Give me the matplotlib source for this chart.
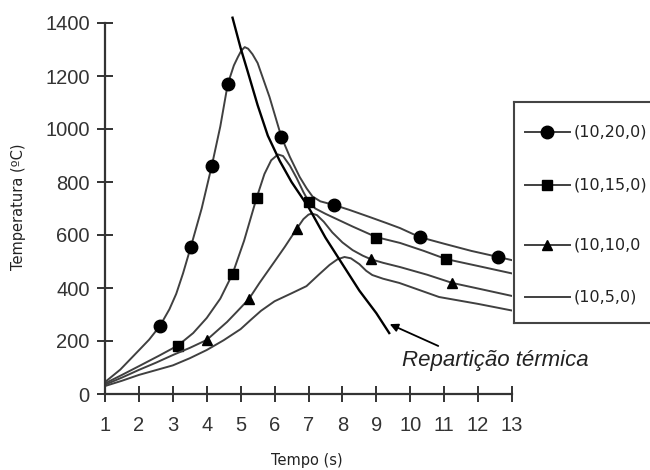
import numpy as np
import matplotlib
matplotlib.use("Agg")
import matplotlib.pyplot as plt

# curves (Tempo in s, Temperatura in C)
x_20 = [1.0, 1.45, 2.0, 2.3, 2.62, 2.9, 3.1, 3.3, 3.53, 3.85, 4.15, 4.4, 4.62, 4.8, 4.92, 5.02,
        5.12, 5.22, 5.35, 5.5, 5.85, 6.2, 6.45, 6.74, 6.95, 7.12, 7.35, 7.76, 8.2, 8.8, 9.3,
        9.7, 10.28, 11.0, 11.8, 12.6, 13.0]
y_20 = [45, 92, 165, 205, 257, 320, 378, 455, 555, 700, 862, 1010, 1170, 1240, 1272, 1296,
        1309, 1303, 1282, 1249, 1121, 970, 895, 819, 775, 745, 727, 713, 695, 668, 645,
        626, 592, 567, 540, 517, 505]
mx_20 = [2.62, 3.53, 4.15, 4.62, 6.2, 7.76, 10.28, 12.6]
my_20 = [257, 555, 862, 1170, 970, 713, 592, 517]

x_15 = [1.0, 1.5, 2.0, 2.6, 3.15, 3.6, 4.0, 4.4, 4.76, 5.1, 5.47, 5.7, 5.9, 6.1, 6.25, 6.45,
        6.65, 6.85, 7.0, 7.2, 7.5, 7.7, 8.3, 9.0, 9.7, 10.4, 11.06, 12.0, 13.0]
y_15 = [40, 72, 105, 145, 183, 230, 287, 360, 453, 578, 740, 830, 882, 904, 898, 862,
        815, 762, 727, 700, 680, 668, 632, 592, 570, 540, 509, 483, 455]
mx_15 = [3.15, 4.76, 5.47, 7.0, 9.0, 11.06]
my_15 = [183, 453, 740, 725, 590, 509]

x_10 = [1.0, 1.5, 2.0, 2.5, 3.0, 3.5, 4.0, 4.6, 4.9, 5.24, 5.56, 6.0, 6.3, 6.65, 6.85, 7.0,
        7.1, 7.25, 7.45, 7.7, 8.0, 8.3, 8.6, 8.85, 9.2, 9.7, 10.5, 11.24, 12.0, 13.0]
y_10 = [35, 62, 91, 118, 147, 174, 204, 272, 312, 358, 420, 500, 555, 623, 660, 677,
        681, 675, 650, 610, 572, 543, 522, 508, 495, 479, 450, 419, 398, 370]
mx_10 = [4.0, 5.24, 6.65, 8.85, 11.24]
my_10 = [204, 358, 623, 508, 419]

x_5 = [1.0, 1.5, 2.0, 2.5, 3.0, 3.5, 4.0, 4.5, 5.0, 5.3, 5.6, 6.0, 6.5, 6.94, 7.3, 7.62,
       7.85, 8.06, 8.25, 8.5, 8.7, 8.88, 9.2, 9.68, 10.85, 12.0, 13.0]
y_5 = [30, 50, 72, 90, 108, 135, 166, 203, 245, 280, 314, 350, 380, 407, 450, 487,
       508, 517, 512, 490, 465, 449, 435, 419, 366, 340, 315]

# "Repartição térmica" boundary line
x_rep = [4.76, 5.0, 5.2, 5.5, 5.8, 6.15, 6.5, 7.0, 7.5, 8.0, 8.5, 9.0, 9.38]
y_rep = [1420, 1305, 1220, 1090, 975, 880, 800, 705, 590, 490, 390, 305, 230]

labels = ["(10,20,0)", "(10,15,0)", "(10,10,0", "(10,5,0)"]
markers = ["o", "s", "^", None]
msizes = [9, 6.5, 7, 0]

W, H = 650, 470
fig = plt.figure(figsize=(6.5, 4.7), dpi=100)
fig.patch.set_facecolor("white")

# axes box in pixels: x 105..512, y 23..394
ax = fig.add_axes([105 / W, 1 - 394 / H, (512 - 105) / W, (394 - 23) / H])

curve_col = "#404040"
series = [(x_20, y_20, mx_20, my_20), (x_15, y_15, mx_15, my_15),
          (x_10, y_10, mx_10, my_10), (x_5, y_5, None, None)]
for (xs, ys, mxs, mys), m, ms in zip(series, markers, msizes):
    ax.plot(xs, ys, color=curve_col, lw=1.4, solid_joinstyle="round")
    if mxs is not None:
        ax.plot(mxs, mys, ls="none", marker=m, ms=ms, color="black")

ax.plot(x_rep, y_rep, color="black", lw=1.7, clip_on=False, solid_joinstyle="round")

ax.annotate("", xy=(9.32, 268), xytext=(10.9, 177),
            arrowprops=dict(arrowstyle="-|>", color="black", lw=1.3,
                            mutation_scale=12))
ax.text(9.76, 128, "Repartição térmica", style="italic", fontsize=16,
        family="Liberation Sans", color="#222222", va="center", ha="left")

ax.set_xlim(1, 13)
ax.set_ylim(0, 1400)
ax.set_xticks(np.arange(1, 14, 1))
ax.set_yticks(np.arange(0, 1401, 200))
for s in ["top", "right"]:
    ax.spines[s].set_visible(False)
for s in ["left", "bottom"]:
    ax.spines[s].set_linewidth(1.6)
    ax.spines[s].set_color("#333333")
ax.tick_params(direction="inout", length=12, width=1.4, color="#333333",
               labelsize=14.5, labelcolor="#333333")
ax.tick_params(axis="x", pad=10)
ax.tick_params(axis="y", pad=5)
for lab in ax.get_xticklabels() + ax.get_yticklabels():
    lab.set_family("Liberation Sans")

fig.text(307 / W, 1 - 461 / H, "Tempo (s)", ha="center", va="center",
         fontsize=10.5, color="#222222")
fig.text(19 / W, 1 - 207 / H, "Temperatura (ºC)", ha="center", va="center",
         rotation=90, fontsize=10.5, color="#222222")

# legend box (cut at the right edge like the original)
lax = fig.add_axes([514 / W, 1 - 323 / H, 160 / W, (323 - 102) / H])
lax.set_xlim(514, 674)
lax.set_ylim(323, 102)
lax.set_xticks([])
lax.set_yticks([])
lax.patch.set_alpha(0)
for s in ["left", "top", "bottom"]:
    lax.spines[s].set_linewidth(1.5)
    lax.spines[s].set_color("#444444")
lax.spines["right"].set_visible(False)

rows = [132, 185, 245, 297]
for lbl, m, ms, ry in zip(labels, markers, msizes, rows):
    lax.plot([525, 570], [ry, ry], color=curve_col, lw=1.4)
    if m is not None:
        lax.plot([547], [ry], marker=m, ms=ms, color="black", ls="none")
    lax.text(574, ry, lbl, va="center", ha="left", fontsize=11.5, color="#222222")

fig.savefig("out.png", dpi=100)
